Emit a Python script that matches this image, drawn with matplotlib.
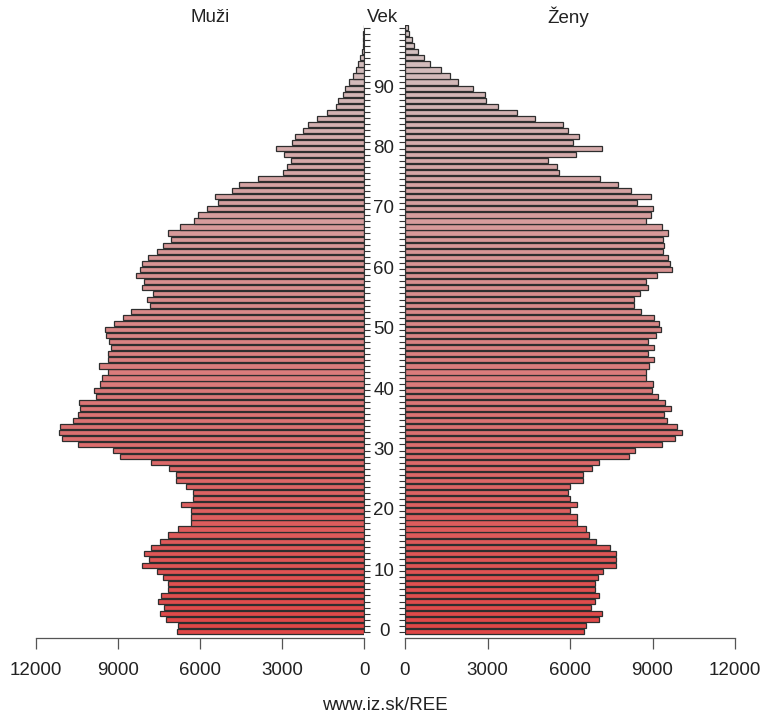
import numpy as np
import matplotlib
matplotlib.use("Agg")
import matplotlib.pyplot as plt
import matplotlib.transforms as mtransforms

plt.rcParams['font.family'] = ['Liberation Sans', 'DejaVu Sans']

# ages 0..100
ages = list(range(0, 101))

muzi = [6850, 6790, 7256, 7463, 7305, 7536, 7439, 7183, 7159, 7342,
        7586, 8110, 7866, 8037, 7805, 7451, 7183, 6794, 6318, 6318,
        6318, 6708, 6245, 6245, 6525, 6878, 6878, 7147, 7805, 8927,
        9195, 10475, 11061, 11146, 11122, 10634, 10475, 10390, 10414, 9805,
        9878, 9658, 9573, 9354, 9683, 9354, 9378, 9256, 9317, 9439,
        9476, 9134, 8805, 8537, 7829, 7927, 7707, 8110, 8049, 8353,
        8195, 8110, 7891, 7586, 7366, 7073, 7158, 6732, 6208, 6085,
        5732, 5329, 5451, 4818, 4585, 3890, 2951, 2805, 2671, 2927,
        3220, 2622, 2524, 2220, 2037, 1708, 1342, 1037, 939, 780,
        695, 537, 390, 293, 207, 146, 85, 49, 30, 20,
        15]

zeny = [6524, 6585, 7037, 7171, 6768, 6927, 7049, 6927, 6927, 7024,
        7195, 7683, 7683, 7683, 7463, 6939, 6683, 6585, 6244, 6244,
        6000, 6244, 6012, 5915, 5988, 6463, 6463, 6793, 7049, 8146,
        8354, 9329, 9817, 10061, 9878, 9524, 9427, 9659, 9464, 9207,
        8976, 9012, 8780, 8780, 8866, 9037, 8842, 9049, 8842, 9134,
        9305, 9244, 9037, 8598, 8329, 8329, 8561, 8842, 8780, 9158,
        9695, 9622, 9573, 9366, 9427, 9390, 9573, 9354, 8780, 8939,
        9000, 8439, 8939, 8232, 7744, 7098, 5585, 5524, 5183, 6232,
        7146, 6110, 6341, 5939, 5744, 4720, 4085, 3390, 2939, 2914,
        2475, 1927, 1622, 1317, 915, 707, 488, 329, 244, 159,
        120]

x_ticks = [0, 3000, 6000, 9000, 12000]
age_labels = list(range(0, 100, 10))

W, H = 764, 713
fig = plt.figure(figsize=(W / 100, H / 100), dpi=100)

# colour ramp: red at the bottom, greyish pink at the top
c0 = np.array([224, 70, 70]) / 255
c1 = np.array([210, 196, 196]) / 255
cols = [c0 + (c1 - c0) * a / 100 for a in ages]

bot_px, top_px = 638, 25
y0_px, dy_px = 631.7, 6.04
ylo = (y0_px - bot_px) / dy_px
yhi = (y0_px - top_px) / dy_px
ax_b = 1 - bot_px / H
ax_h = (bot_px - top_px) / H

axL = fig.add_axes([36 / W, ax_b, 328 / W, ax_h])
axR = fig.add_axes([405 / W, ax_b, 330 / W, ax_h])

axL.barh(ages, muzi, height=0.85, color=cols, edgecolor='#2e2e2e', linewidth=0.9)
axR.barh(ages, zeny, height=0.85, color=cols, edgecolor='#2e2e2e', linewidth=0.9)

axL.set_xlim(12000, 0)
axR.set_xlim(0, 12000)
for ax in (axL, axR):
    ax.set_ylim(ylo, yhi)
    ax.set_xticks(x_ticks)
    ax.set_xticklabels([str(v) for v in x_ticks])
    ax.tick_params(axis='x', length=8, width=0.9, color='#555555', pad=9,
                   labelsize=13.5, labelcolor='#222222')
    ax.spines['top'].set_visible(False)
    ax.spines['bottom'].set_color('#555555')
    ax.spines['bottom'].set_linewidth(0.9)
    ax.set_yticks(ages)
    ax.set_yticklabels([])

axL.spines['left'].set_visible(False)
axL.spines['right'].set_bounds(0, 100)
axL.spines['right'].set_color('#333333')
axL.yaxis.tick_right()
axL.tick_params(axis='y', direction='out', length=4, width=0.8, color='#333333')

axR.spines['right'].set_visible(False)
axR.spines['left'].set_bounds(0, 100)
axR.spines['left'].set_color('#333333')
axR.tick_params(axis='y', direction='out', length=4, width=0.8, color='#333333')

# age labels in the middle gap
tr = mtransforms.blended_transform_factory(fig.transFigure, axL.transData)
for a in age_labels:
    axL.text(384 / W, a, str(a), transform=tr, ha='center', va='center',
             fontsize=13.5, color='#222222')

fig.text(210 / W, 1 - 17 / H, 'Muži', ha='center', va='center', fontsize=13.5, color='#222222')
fig.text(383 / W, 1 - 17 / H, 'Vek', ha='center', va='center', fontsize=13.5, color='#222222')
fig.text(568 / W, 1 - 17 / H, 'Ženy', ha='center', va='center', fontsize=13.5, color='#222222')
fig.text(385 / W, 1 - 705 / H, 'www.iz.sk/REE', ha='center', va='center', fontsize=13.5, color='#222222')

fig.savefig('out.png', dpi=100)
